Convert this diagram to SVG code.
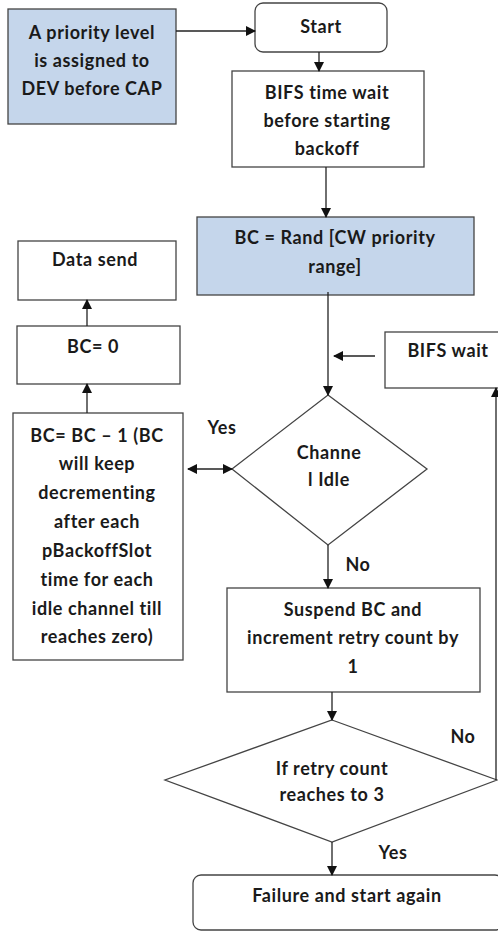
<svg xmlns="http://www.w3.org/2000/svg" width="498" height="932" viewBox="0 0 498 932">
<defs>
<marker id="ah" markerWidth="10" markerHeight="10" refX="9" refY="5" orient="auto" markerUnits="userSpaceOnUse" viewBox="0 0 10 10">
<path d="M0,0 L10,5 L0,10 Z" fill="#111"/>
</marker>
<marker id="ahs" markerWidth="10" markerHeight="10" refX="1" refY="5" orient="auto" markerUnits="userSpaceOnUse" viewBox="0 0 10 10">
<path d="M10,0 L0,5 L10,10 Z" fill="#111"/>
</marker>
</defs>
<style>
.box{fill:#fff;stroke:#444;stroke-width:1.3}
.blue{fill:#c5d6eb;stroke:#444;stroke-width:1.3}
.t{font-family:Lato,"Liberation Sans",sans-serif;font-weight:bold;font-size:18px;letter-spacing:0.6px;fill:#1a1a1a;text-anchor:middle}
.c{fill:none;stroke:#222;stroke-width:1.3}
</style>
<rect width="498" height="932" fill="#fff"/>

<g id="priority">
<rect class="blue" x="8" y="9" width="168" height="115"/>
<text class="t" x="92" y="39">A priority level</text>
<text class="t" x="92" y="67">is assigned to</text>
<text class="t" x="92" y="95">DEV before CAP</text>
</g>

<g id="start">
<rect class="box" x="255" y="3" width="132" height="49" rx="8"/>
<text class="t" x="321" y="33">Start</text>
</g>

<g id="bifs-time">
<rect class="box" x="232" y="71" width="192" height="96"/>
<text class="t" x="327" y="99">BIFS time wait</text>
<text class="t" x="327" y="127">before starting</text>
<text class="t" x="327" y="155">backoff</text>
</g>

<g id="bc-rand">
<rect class="blue" x="197" y="217" width="277" height="78"/>
<text class="t" x="335" y="244">BC = Rand [CW priority</text>
<text class="t" x="335" y="273">range]</text>
</g>

<g id="data-send">
<rect class="box" x="18" y="241" width="158" height="59"/>
<text class="t" x="95" y="266">Data send</text>
</g>

<g id="bc-zero">
<rect class="box" x="17" y="326" width="163" height="58"/>
<text class="t" x="93" y="353">BC= 0</text>
</g>

<g id="bifs-wait">
<rect class="box" x="385" y="332" width="120" height="56"/>
<text class="t" x="448" y="357">BIFS wait</text>
</g>

<g id="bc-dec">
<rect class="box" x="13" y="413" width="170" height="247"/>
<text class="t" x="97" y="442">BC= BC – 1 (BC</text>
<text class="t" x="97" y="470">will keep</text>
<text class="t" x="97" y="499">decrementing</text>
<text class="t" x="97" y="528">after each</text>
<text class="t" x="97" y="557">pBackoffSlot</text>
<text class="t" x="97" y="586">time for each</text>
<text class="t" x="97" y="615">idle channel till</text>
<text class="t" x="97" y="643">reaches zero)</text>
</g>

<g id="channel-idle">
<polygon class="box" points="328,395 427,469 328,545 232,469"/>
<text class="t" x="329" y="459">Channe</text>
<text class="t" x="329" y="486">l Idle</text>
</g>

<g id="suspend">
<rect class="box" x="227" y="588" width="253" height="104"/>
<text class="t" x="353" y="616">Suspend BC and</text>
<text class="t" x="353" y="644">increment retry count by</text>
<text class="t" x="353" y="673">1</text>
</g>

<g id="retry">
<polygon class="box" points="332,720 497,780 332,842 165,780"/>
<text class="t" x="332" y="775">If retry count</text>
<text class="t" x="332" y="801">reaches to 3</text>
</g>

<g id="failure">
<rect class="box" x="193" y="875" width="310" height="55" rx="8"/>
<text class="t" x="347" y="902">Failure and start again</text>
</g>

<g id="connectors">
<line class="c" x1="176" y1="31" x2="255" y2="31" marker-end="url(#ah)"/>
<line class="c" x1="319" y1="52" x2="319" y2="71" marker-end="url(#ah)"/>
<line class="c" x1="326" y1="167" x2="326" y2="217" marker-end="url(#ah)"/>
<line class="c" x1="328" y1="292" x2="328" y2="395" marker-end="url(#ah)"/>
<line class="c" x1="375" y1="356" x2="334" y2="356" marker-end="url(#ah)"/>
<line class="c" x1="87" y1="326" x2="87" y2="300" marker-end="url(#ah)"/>
<line class="c" x1="87" y1="413" x2="87" y2="384" marker-end="url(#ah)"/>
<line class="c" x1="188" y1="469" x2="232" y2="469" marker-start="url(#ahs)" marker-end="url(#ah)"/>
<line class="c" x1="328" y1="545" x2="328" y2="588" marker-end="url(#ah)"/>
<line class="c" x1="332" y1="692" x2="332" y2="720" marker-end="url(#ah)"/>
<line class="c" x1="332" y1="842" x2="332" y2="875" marker-end="url(#ah)"/>
<line class="c" x1="496" y1="780" x2="496" y2="388" marker-end="url(#ah)"/>
<text class="t" x="222" y="434">Yes</text>
<text class="t" x="358" y="571">No</text>
<text class="t" x="463" y="743">No</text>
<text class="t" x="393" y="859">Yes</text>
</g>
</svg>
